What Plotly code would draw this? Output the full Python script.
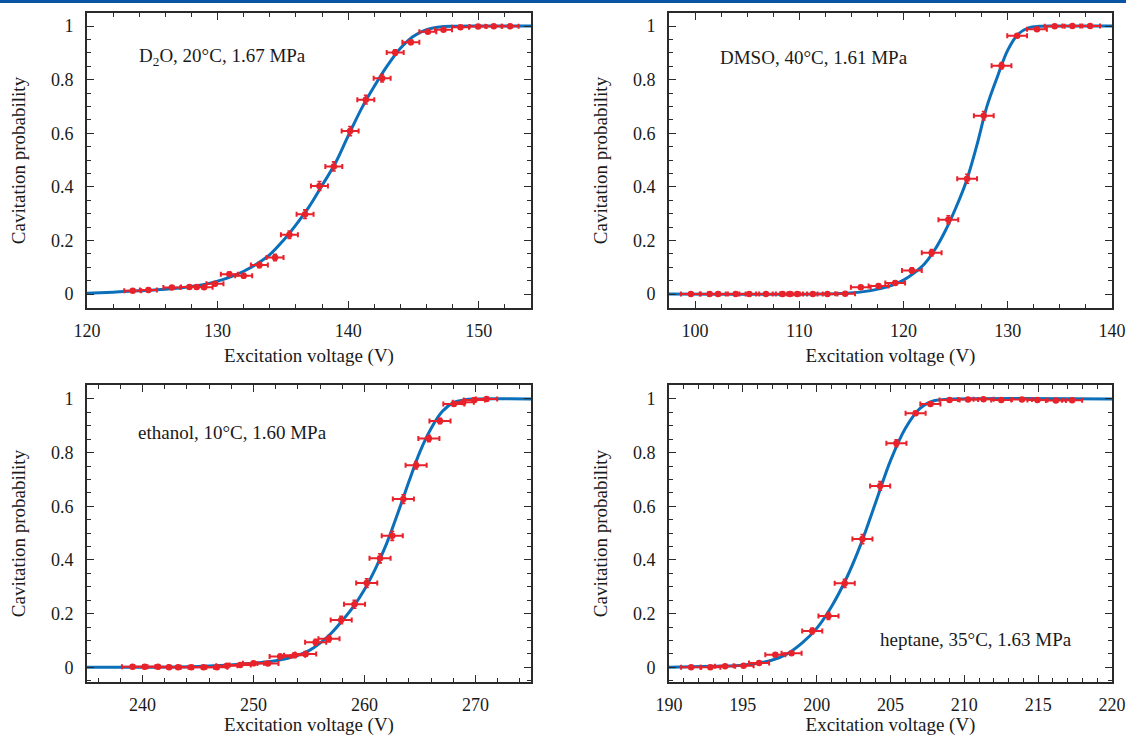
import plotly.graph_objects as go

# ---------------- data ----------------
# Panel 1: D2O
d2o_v = [123.5, 124.7, 126.5, 127.85, 128.4, 128.97, 129.8, 130.9, 132.0, 133.2, 134.4, 135.5, 136.7,
         137.8, 138.9, 140.15, 141.35, 142.6, 143.6, 144.8, 146.1, 147.3, 148.6, 149.95, 151.15, 152.4]
d2o_p = [0.012, 0.015, 0.024, 0.026, 0.026, 0.025, 0.038, 0.074, 0.068, 0.108, 0.136, 0.221, 0.298,
         0.403, 0.476, 0.608, 0.725, 0.805, 0.901, 0.939, 0.979, 0.986, 0.995, 0.998, 0.999, 0.999]
d2o_pe = [0.004, 0.004, 0.005, 0.005, 0.005, 0.005, 0.006, 0.008, 0.008, 0.010, 0.012, 0.014, 0.016,
          0.017, 0.017, 0.017, 0.016, 0.014, 0.010, 0.008, 0.005, 0.004, 0.002, 0.001, 0.001, 0.001]
d2o_fit_v = [120, 122, 124, 126, 128, 129, 130, 131, 132, 133, 134, 135, 136, 137, 138, 139, 140,
             141, 142, 143, 144, 145, 146, 147, 148, 150, 154]
d2o_fit_p = [0.003, 0.007, 0.012, 0.018, 0.028, 0.036, 0.048, 0.064, 0.085, 0.112, 0.147, 0.198, 0.258,
             0.325, 0.405, 0.487, 0.59, 0.69, 0.775, 0.852, 0.917, 0.962, 0.986, 0.996, 0.999, 1.0, 1.0]

# Panel 2: DMSO
dmso_v = [99.6, 101.4, 102.2, 103.9, 105.2, 106.8, 108.4, 109.1, 109.8, 111.3, 112.7, 114.4,
          115.9, 117.6, 119.2, 120.8, 122.7, 124.3, 126.1, 127.7, 129.4, 130.9, 132.8, 134.5, 136.2, 137.9]
dmso_p = [0, 0, 0, 0, 0, 0, 0, 0, 0, 0, 0, 0.001,
          0.025, 0.03, 0.041, 0.088, 0.154, 0.277, 0.43, 0.665, 0.852, 0.964, 0.988, 0.999, 1.0, 1.0]
dmso_pe = [0.001, 0.001, 0.001, 0.001, 0.001, 0.001, 0.001, 0.001, 0.001, 0.001, 0.001, 0.002,
           0.005, 0.006, 0.007, 0.01, 0.012, 0.015, 0.017, 0.016, 0.012, 0.006, 0.004, 0.001, 0.001, 0.001]
dmso_fit_v = [97.5, 112, 114, 116, 118, 119, 120, 121, 122, 123, 124, 125, 126, 127, 128, 129, 130,
              131, 132, 133, 135, 140]
dmso_fit_p = [0.0, 0.0, 0.002, 0.008, 0.022, 0.034, 0.052, 0.078, 0.112, 0.165, 0.235, 0.32, 0.418,
              0.55, 0.7, 0.81, 0.91, 0.97, 0.993, 0.999, 1.0, 1.0]

# Panel 3: ethanol
eth_v = [239.1, 240.2, 241.4, 242.4, 243.2, 244.4, 245.5, 246.7, 247.6, 248.8, 250.0, 251.3, 252.4,
         253.7, 254.7, 255.6, 256.8, 257.9, 259.1, 260.2, 261.4, 262.5, 263.5, 264.65, 265.8, 266.8,
         268.05, 268.9, 269.9, 271.0]
eth_p = [0.002, 0.002, 0.002, 0.0, 0.0, 0.0, 0.0, 0.0, 0.006, 0.009, 0.015, 0.014, 0.04,
         0.045, 0.05, 0.093, 0.106, 0.176, 0.235, 0.314, 0.406, 0.49, 0.627, 0.753, 0.853, 0.918,
         0.981, 0.988, 0.996, 1.0]
eth_pe = [0.002, 0.002, 0.002, 0.001, 0.001, 0.001, 0.001, 0.001, 0.003, 0.004, 0.005, 0.005, 0.008,
          0.008, 0.009, 0.011, 0.012, 0.014, 0.015, 0.016, 0.017, 0.017, 0.016, 0.014, 0.012, 0.01,
          0.005, 0.004, 0.002, 0.001]
eth_fit_v = [235, 245, 250, 252, 254, 255, 256, 257, 258, 259, 260, 261, 262, 263, 264, 265, 266,
             267, 268, 269, 270, 275]
eth_fit_p = [0.0, 0.003, 0.015, 0.024, 0.045, 0.062, 0.09, 0.127, 0.174, 0.226, 0.29, 0.369, 0.462,
             0.574, 0.692, 0.804, 0.89, 0.953, 0.986, 0.997, 1.0, 1.0]

# Panel 4: heptane
hep_v = [191.5, 192.8, 193.8, 195.05, 196.1, 197.2, 198.3, 199.7, 200.8, 201.9, 203.1, 204.3, 205.4,
         206.7, 207.7, 209.0, 210.25, 211.3, 212.5, 213.9, 214.95, 216.2, 217.3]
hep_p = [0.0, 0.0, 0.004, 0.006, 0.016, 0.047, 0.052, 0.135, 0.191, 0.313, 0.478, 0.676, 0.835,
         0.947, 0.981, 0.996, 0.998, 0.999, 0.996, 0.998, 0.996, 0.994, 0.995]
hep_pe = [0.001, 0.001, 0.002, 0.003, 0.004, 0.007, 0.007, 0.011, 0.013, 0.015, 0.017, 0.016, 0.013,
          0.007, 0.005, 0.002, 0.002, 0.001, 0.002, 0.002, 0.002, 0.002, 0.002]
hep_fit_v = [190, 193, 195, 196, 197, 198, 199, 200, 201, 202, 203, 204, 205, 206, 207, 208, 209, 220]
hep_fit_p = [0.0, 0.004, 0.008, 0.015, 0.027, 0.05, 0.09, 0.145, 0.226, 0.33, 0.46, 0.615, 0.77,
             0.89, 0.965, 0.994, 0.999, 1.0]

labels = ["D<sub>2</sub>O, 20°C, 1.67 MPa", "DMSO, 40°C, 1.61 MPa",
          "ethanol, 10°C, 1.60 MPa", "heptane, 35°C, 1.63 MPa"]

panels = [
    (d2o_v, d2o_p, d2o_pe, 0.65, d2o_fit_v, d2o_fit_p),
    (dmso_v, dmso_p, dmso_pe, 0.95, dmso_fit_v, dmso_fit_p),
    (eth_v, eth_p, eth_pe, 0.95, eth_fit_v, eth_fit_p),
    (hep_v, hep_p, hep_pe, 0.68, hep_fit_v, hep_fit_p),
]

# ---------------- layout ----------------
W, H = 1126, 736
FONT = "Liberation Serif, Times New Roman, serif"
BLUE = "#0b6fb9"
RED = "#e8222b"
AX = "#2a2a2a"

xdom = [[87 / W, 531 / W], [669 / W, 1112 / W]]
ydom = [[1 - 308 / H, 1 - 13 / H], [1 - 682 / H, 1 - 385 / H]]
xranges = [[120, 154], [97.5, 140], [235, 275], [190, 220]]
xdt = [10, 10, 10, 5]
xminor = [2, 2.5, 2, 1]
x0 = [120, 100, 240, 190]
yranges = [[-0.0522, 1.0485], [-0.0548, 1.052]]

fig = go.Figure()
for i, (v, p, pe, ve, fv, fp) in enumerate(panels):
    xa = "x" if i == 0 else f"x{i+1}"
    ya = "y" if i == 0 else f"y{i+1}"
    fig.add_trace(go.Scatter(x=fv, y=fp, mode="lines", line=dict(color=BLUE, width=3, shape="spline"),
                             xaxis=xa, yaxis=ya, showlegend=False, hoverinfo="skip"))
    fig.add_trace(go.Scatter(x=v, y=p, mode="markers",
                             marker=dict(color=RED, size=6.5),
                             error_x=dict(type="constant", value=ve, color=RED, thickness=2, width=2.5),
                             error_y=dict(type="data", array=pe, color=RED, thickness=1.6, width=2),
                             xaxis=xa, yaxis=ya, showlegend=False))

axis_common = dict(showgrid=False, zeroline=False, showline=True, linecolor=AX, linewidth=1.6,
                   mirror="allticks", ticks="inside", ticklen=7, tickwidth=1.3, tickcolor=AX,
                   tickfont=dict(family=FONT, size=18, color="#1a1a1a"), automargin=False)

for i in range(4):
    r, c = divmod(i, 2)
    sfx = "" if i == 0 else str(i + 1)
    fig.layout["xaxis" + sfx] = dict(
        axis_common, domain=xdom[c], range=xranges[i], anchor="y" + sfx,
        tick0=x0[i], dtick=xdt[i], ticklabelstandoff=6,
        minor=dict(dtick=xminor[i], tick0=x0[i], ticks="inside", ticklen=4, tickwidth=1.2, tickcolor=AX),
        title=dict(text="Excitation voltage (V)", font=dict(family=FONT, size=19, color="#1a1a1a"),
                   standoff=8))
    fig.layout["yaxis" + sfx] = dict(
        axis_common, domain=ydom[r], range=yranges[r], anchor="x" + sfx,
        tick0=0, dtick=0.2, ticklabelstandoff=8,
        minor=dict(dtick=0.05, tick0=0, ticks="inside", ticklen=4, tickwidth=1.2, tickcolor=AX),
        title=dict(text="Cavitation probability", font=dict(family=FONT, size=19, color="#1a1a1a"),
                   standoff=20))

ann_pos = [(137, 57, "left"), (718, 57, "left"), (136, 432, "left"), (878, 639, "left")]
for (px, py, anc), txt in zip(ann_pos, labels):
    fig.add_annotation(text=txt, xref="paper", yref="paper", x=px / W, y=1 - py / H,
                       xanchor=anc, yanchor="middle", showarrow=False,
                       font=dict(family=FONT, size=19, color="#1a1a1a"))

fig.add_shape(type="line", xref="paper", yref="paper", x0=0, x1=1, y0=1 - 1.5 / H, y1=1 - 1.5 / H,
              line=dict(color="#0a55a3", width=3))

fig.update_layout(width=W, height=H, margin=dict(l=0, r=0, t=0, b=0),
                  paper_bgcolor="white", plot_bgcolor="white",
                  font=dict(family=FONT, color="#1a1a1a"))

fig.write_html("out.html")
